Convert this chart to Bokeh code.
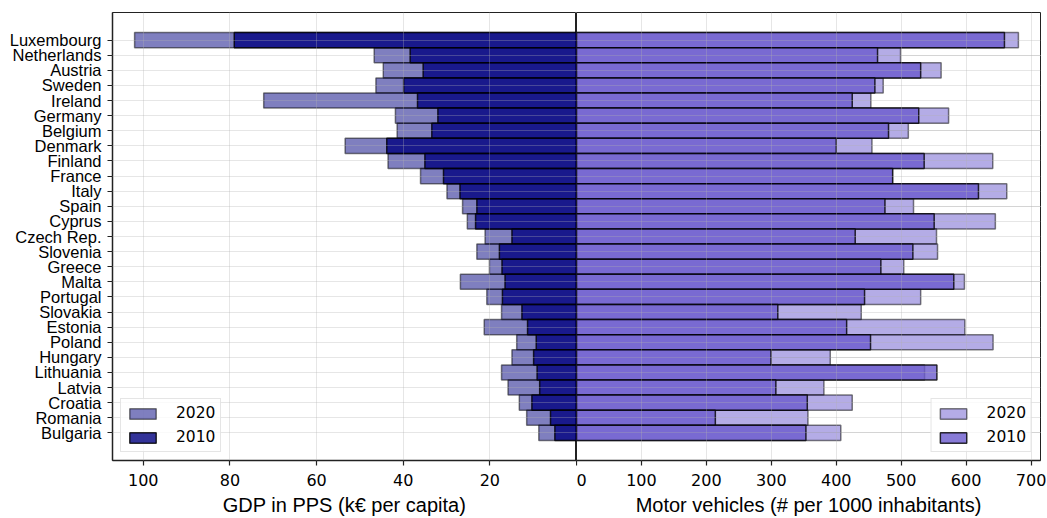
from bokeh.plotting import figure
from bokeh.layouts import row
from bokeh.models import (Range1d, FixedTicker, Legend, LegendItem,
                          ColumnDataSource, Grid)
from bokeh.embed import file_html
from bokeh.resources import INLINE

# ---------------- data ----------------
countries = ["Luxembourg", "Netherlands", "Austria", "Sweden", "Ireland",
             "Germany", "Belgium", "Denmark", "Finland", "France", "Italy",
             "Spain", "Cyprus", "Czech Rep.", "Slovenia", "Greece", "Malta",
             "Portugal", "Slovakia", "Estonia", "Poland", "Hungary",
             "Lithuania", "Latvia", "Croatia", "Romania", "Bulgaria"]

# GDP in PPS (k EUR per capita)
gdp_2020 = [102.0, 46.7, 44.6, 46.3, 72.2, 41.8, 41.4, 53.4, 43.5, 36.0,
            29.9, 26.3, 25.2, 21.1, 23.0, 20.1, 26.8, 20.7, 17.3, 21.3,
            13.8, 14.9, 17.3, 15.8, 13.2, 11.5, 8.7]
gdp_2010 = [79.0, 38.4, 35.4, 39.9, 36.7, 32.0, 33.4, 43.8, 35.0, 30.7,
            26.9, 23.0, 23.3, 14.9, 17.8, 17.2, 16.5, 17.1, 12.6, 11.3,
            9.3, 9.9, 9.1, 8.5, 10.3, 6.0, 5.0]

# Motor vehicles (# per 1000 inhabitants)
veh_2020 = [680.5, 499, 561.5, 472.3, 453.3, 573, 511, 455, 641, 486,
            662.6, 519, 645, 554.4, 556, 504, 597.4, 530, 438.5, 598,
            641.5, 390.8, 536, 381, 424.6, 356.4, 407]
veh_2010 = [659, 463.6, 530, 459.5, 424.6, 527, 480.5, 400, 535.4, 487,
            619, 475, 550.8, 429.2, 518, 468.7, 581, 443.6, 310, 416,
            452.8, 299.5, 555, 307, 355.4, 213.8, 353.3]

years = ["2020", "2010"]
gdp_ticks = [20, 40, 60, 80, 100]          # the shared 0 is labelled by the right panel
veh_ticks = [0, 100, 200, 300, 400, 500, 600, 700]

n = len(countries)
ypos = [n - 1 - i for i in range(n)]
src = ColumnDataSource(dict(y=ypos, country=countries,
                            gdp20=gdp_2020, gdp10=gdp_2010,
                            veh20=veh_2020, veh10=veh_2010))

TICK_FONT = "DejaVu Sans"
LABEL_FONT = "Liberation Sans"
GRID_COLOR = "#b0b0b0"
GRID_ALPHA = 0.32
pad_units = 1.83


def style_xaxis(p, ticks, label):
    ax = p.xaxis[0]
    ax.ticker = FixedTicker(ticks=ticks)
    ax.axis_label = label
    ax.axis_label_text_font = LABEL_FONT
    ax.axis_label_text_font_size = "20px"
    ax.axis_label_text_font_style = "normal"
    ax.axis_label_text_color = "black"
    ax.axis_label_standoff = 5
    ax.major_label_text_font = TICK_FONT
    ax.major_label_text_font_size = "16px"
    ax.major_label_text_color = "black"
    ax.major_label_standoff = 8
    ax.major_tick_out = 5
    ax.major_tick_in = 0
    ax.minor_tick_out = 0
    ax.minor_tick_in = 0
    ax.axis_line_color = "#222222"
    ax.axis_line_width = 1.3
    ax.major_tick_line_color = "#222222"
    ax.major_tick_line_width = 1.2
    p.xgrid.grid_line_color = GRID_COLOR
    p.xgrid.grid_line_alpha = GRID_ALPHA
    p.xgrid.level = "guide"


def make_legend(r20, r10, loc):
    leg = Legend(items=[LegendItem(label=years[0], renderers=[r20]),
                        LegendItem(label=years[1], renderers=[r10])],
                 location=loc)
    leg.label_text_font = TICK_FONT
    leg.label_text_font_size = "15.5px"
    leg.label_text_color = "black"
    leg.glyph_width = 33
    leg.glyph_height = 13
    leg.label_standoff = 17
    leg.label_height = 13
    leg.padding = 5
    leg.spacing = 6
    leg.margin = 8
    leg.border_line_color = "#cccccc"
    leg.border_line_width = 1
    leg.background_fill_alpha = 0.8
    return leg


# ---------------- left panel: GDP ----------------
p1 = figure(width=576, height=518,
            x_range=Range1d(max(gdp_2020) * 1.05, 0),
            y_range=Range1d(-pad_units, n - 1 + pad_units),
            output_backend="svg", toolbar_location=None,
            min_border_left=112, min_border_right=0,
            min_border_top=12, min_border_bottom=54)
r20 = p1.hbar(y="y", left=0, right="gdp20", height=1.0, source=src,
              fill_color="navy", fill_alpha=0.5,
              line_color="black", line_alpha=0.5, line_width=1.5)
r10 = p1.hbar(y="y", left=0, right="gdp10", height=1.0, source=src,
              fill_color="navy", fill_alpha=0.8,
              line_color="black", line_alpha=0.8, line_width=1.5)
style_xaxis(p1, gdp_ticks, "GDP in PPS (k€ per capita)")

ya = p1.yaxis[0]
ya.ticker = FixedTicker(ticks=ypos)
ya.major_label_overrides = {y: c for y, c in zip(ypos, countries)}
ya.major_label_text_font = LABEL_FONT
ya.major_label_text_font_size = "16.5px"
ya.major_label_text_color = "black"
ya.major_label_standoff = 6
ya.major_tick_out = 5
ya.major_tick_in = 0
ya.minor_tick_out = 0
ya.minor_tick_in = 0
ya.axis_line_color = "#222222"
ya.axis_line_width = 1.5
ya.major_tick_line_color = "#222222"
ya.major_tick_line_width = 1.2
p1.ygrid.grid_line_color = GRID_COLOR
p1.ygrid.grid_line_alpha = GRID_ALPHA
p1.ygrid.level = "guide"
p1.outline_line_color = "#222222"
p1.outline_line_width = 1
p1.add_layout(make_legend(r20, r10, "bottom_left"))

# ---------------- right panel: vehicles ----------------
p2 = figure(width=471, height=518,
            x_range=Range1d(0, max(veh_2020) * 1.05),
            y_range=p1.y_range,
            y_axis_location=None,
            output_backend="svg", toolbar_location=None,
            min_border_left=0, min_border_right=7,
            min_border_top=12, min_border_bottom=54)
s20 = p2.hbar(y="y", left=0, right="veh20", height=1.0, source=src,
              fill_color="slateblue", fill_alpha=0.5,
              line_color="black", line_alpha=0.5, line_width=1.5)
s10 = p2.hbar(y="y", left=0, right="veh10", height=1.0, source=src,
              fill_color="slateblue", fill_alpha=0.8,
              line_color="black", line_alpha=0.8, line_width=1.5)
style_xaxis(p2, veh_ticks, "Motor vehicles (# per 1000 inhabitants)")
g2 = Grid(dimension=1, ticker=FixedTicker(ticks=ypos),
          grid_line_color=GRID_COLOR, grid_line_alpha=GRID_ALPHA,
          level="guide")
p2.add_layout(g2)
p2.outline_line_color = "#222222"
p2.outline_line_width = 1
p2.add_layout(make_legend(s20, s10, "bottom_right"))

layout = row(p1, p2)
open("out.html", "w").write(file_html(layout, INLINE))
